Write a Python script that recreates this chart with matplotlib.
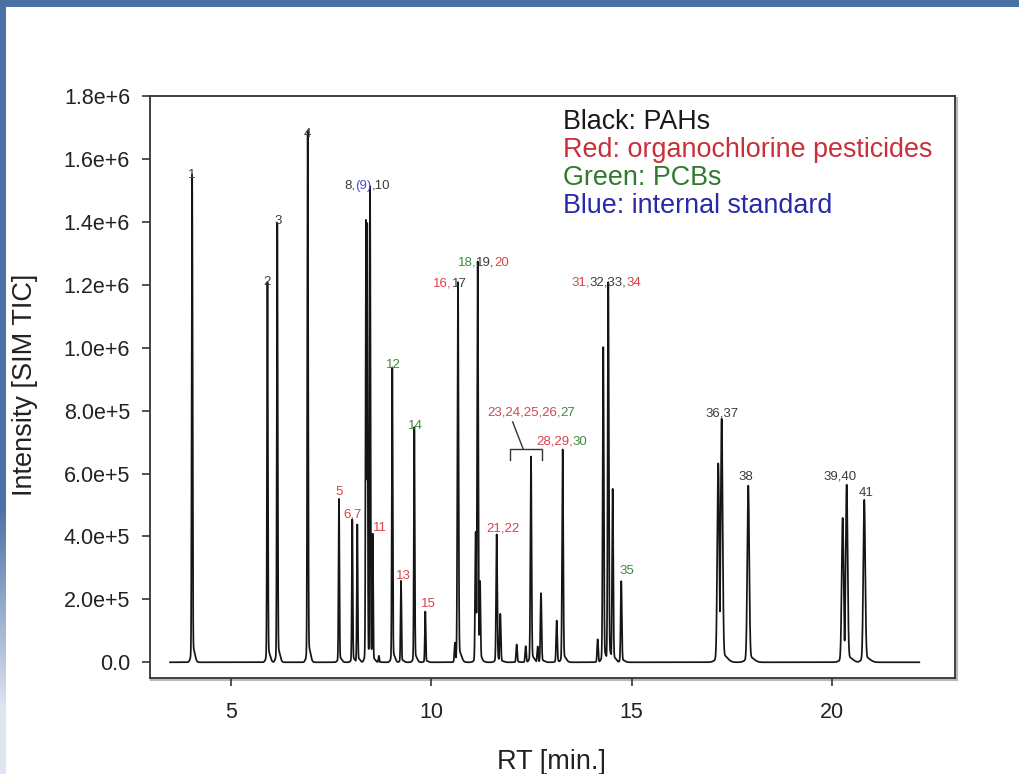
import numpy as np
import matplotlib
matplotlib.use('Agg')
import matplotlib.pyplot as plt
from matplotlib.offsetbox import TextArea, HPacker, AnnotationBbox
from matplotlib.patches import Rectangle

plt.rcParams['font.family'] = ['Liberation Sans', 'DejaVu Sans']

# retention time [min] and apex intensity of every peak in the SIM TIC trace
peak_rt = [4.03, 5.91, 6.155, 6.915, 7.695, 8.027, 8.152, 8.37, 8.40, 8.47,
           8.536, 8.69, 9.025, 9.243, 9.575, 9.849, 10.59, 10.665, 11.107, 11.157,
           11.214, 11.631, 11.721, 12.13, 12.355, 12.487, 12.654, 12.737, 13.129, 13.278,
           14.152, 14.291, 14.416, 14.526, 14.74, 17.161, 17.246, 17.91, 20.266, 20.366,
           20.805]
peak_height = [1.511e6, 1.177e6, 1.361e6, 1.646e6, 5.06e5, 4.43e5, 4.27e5, 1.37e6, 1.36e6, 1.474e6,
               3.98e5, 2.0e4, 9.13e5, 2.52e5, 7.28e5, 1.57e5, 6.1e4, 1.177e6, 4.04e5, 1.241e6,
               2.52e5, 3.96e5, 1.5e5, 5.5e4, 5.0e4, 6.37e5, 4.9e4, 2.14e5, 1.29e5, 6.59e5,
               7.1e4, 9.76e5, 1.177e6, 5.37e5, 2.51e5, 6.16e5, 7.54e5, 5.47e5, 4.47e5, 5.5e5,
               5.03e5]
rt_start, rt_end = 3.48, 22.18

# peak labels: pieces of (text, class) and the index of the peak they sit on
label_parts = [
    [('1', 'pah')],
    [('2', 'pah')],
    [('3', 'pah')],
    [('4', 'pah')],
    [('5', 'ocp')],
    [('6,7', 'ocp')],
    [('8,', 'pah'), ('(9)', 'istd'), (',10', 'pah')],
    [('11', 'ocp')],
    [('12', 'pcb')],
    [('13', 'ocp')],
    [('14', 'pcb')],
    [('15', 'ocp')],
    [('16,', 'ocp'), ('17', 'pah')],
    [('18,', 'pcb'), ('19,', 'pah'), ('20', 'ocp')],
    [('21,22', 'ocp')],
    [('23,24,25,26,', 'ocp'), ('27', 'pcb')],
    [('28,29,', 'ocp'), ('30', 'pcb')],
    [('31,', 'ocp'), ('32,33,', 'pah'), ('34', 'ocp')],
    [('35', 'pcb')],
    [('36,37', 'pah')],
    [('38', 'pah')],
    [('39,40', 'pah')],
    [('41', 'pah')],
]
label_peak = [0, 1, 2, 3, 4, 5, 9, 10, 12, 13, 14, 15, 17, 19, 21, 25, 29, 32, 34, 36, 37, 39, 40]
# offset of each label centre from its peak apex, in pixels
label_offset = [(0, 12), (0, 10), (1, 13), (0, 10), (0, 11), (0, 8), (-3, 13), (7, 9),
                (1, 10), (2, 7), (1, 7), (3, 9), (-8, 8), (6, 9), (6, 9), (0, 49),
                (-1, 13), (-2, 9), (6, 12), (0, 12), (-2, 13), (-7, 13), (2, 11)]

legend_lines = ['Black: PAHs', 'Red: organochlorine pesticides', 'Green: PCBs', 'Blue: internal standard']
legend_keys = ['pah', 'ocp', 'pcb', 'istd']

yticks = [0, 2e5, 4e5, 6e5, 8e5, 1.0e6, 1.2e6, 1.4e6, 1.6e6, 1.8e6]
ytick_labels = ['0.0', '2.0e+5', '4.0e+5', '6.0e+5', '8.0e+5', '1.0e+6', '1.2e+6', '1.4e+6', '1.6e+6', '1.8e+6']
xticks = [5, 10, 15, 20]

label_colors = {'pah': '#3c3c3c', 'ocp': '#d9434c', 'pcb': '#3d8c3d', 'istd': '#4b4bd6'}
legend_colors = {'pah': '#1a1a1a', 'ocp': '#c8303a', 'pcb': '#2f7a2f', 'istd': '#2a2aa8'}


def peak_width(rt):
    if rt < 10:
        return 0.011
    if rt < 16:
        return 0.014
    return 0.024


def build_trace(t):
    # overlapping peaks are drawn as an envelope so every apex keeps its own height
    y = np.zeros_like(t)
    for rt, h in zip(peak_rt, peak_height):
        s = peak_width(rt)
        p = h * np.exp(-0.5 * ((t - rt) / s) ** 2)
        # slight tailing skirt at the base
        p += 0.03 * h * np.exp(-0.5 * ((t - rt - 2 * s) / (4 * s)) ** 2)
        y = np.maximum(y, p)
    return y


W, H = 1020, 774
fig = plt.figure(figsize=(W / 100, H / 100), dpi=100)

# blue page border (top bar and fading left bar)
fig.patches.append(Rectangle((0, 1 - 7 / H), 1, 7 / H, transform=fig.transFigure,
                             facecolor='#4a71a6', edgecolor='none', zorder=-5))
bg = fig.add_axes([0, 0, 6 / W, 1 - 7 / H])
rows = np.arange(H - 7)
frac = np.clip((rows - 500) / 200, 0, 1)[:, None]
blue = np.array([0x4a, 0x71, 0xa6]) / 255
light = np.array([0xdf, 0xe4, 0xf0]) / 255
grad = blue * (1 - frac) + light * frac
bg.imshow(grad[:, None, :], aspect='auto', interpolation='bilinear')
bg.set_axis_off()

left, right, top, bottom = 149.5, 955, 96, 678
ax = fig.add_axes([left / W, 1 - bottom / H, (right - left) / W, (bottom - top) / H])

# frame shadow
fig.patches.append(Rectangle(((left + 2) / W, 1 - (bottom + 2) / H), (right - left) / W, (bottom - top) / H,
                             transform=fig.transFigure, facecolor='none', edgecolor='#b8b8b8',
                             linewidth=1.5, zorder=-1))

t = np.arange(rt_start, rt_end, 0.001)
ax.plot(t, build_trace(t), color='#151515', linewidth=1.25)

ax.set_xlim(2.966, 23.07)
ax.set_ylim(-5e4, 1.8e6)
ax.set_xticks(xticks)
ax.set_xticklabels([str(x) for x in xticks])
ax.set_yticks(yticks)
ax.set_yticklabels(ytick_labels)
ax.tick_params(axis='both', direction='out', length=6, width=1.2, color='#333333',
               labelsize=15.5, labelcolor='#222222')
ax.tick_params(axis='y', pad=8)
ax.tick_params(axis='x', pad=11)
for sp in ax.spines.values():
    sp.set_color('#333333')
    sp.set_linewidth(1.3)

# peak labels
for parts, idx, (dx, dy) in zip(label_parts, label_peak, label_offset):
    boxes = [TextArea(s, textprops=dict(color=label_colors[k], fontsize=9.5)) for s, k in parts]
    pack = HPacker(children=boxes, align='baseline', pad=0, sep=0)
    ab = AnnotationBbox(pack, (peak_rt[idx], peak_height[idx]), xybox=(dx * 0.72, dy * 0.72),
                        xycoords='data', boxcoords='offset points', frameon=False,
                        box_alignment=(0.5, 0.5), pad=0)
    ax.add_artist(ab)

# bracket grouping peaks 23-27
bx0, bx1, by, bdrop = 11.963, 12.754, 6.77e5, 6.42e5
ax.plot([bx0, bx0, bx1, bx1], [bdrop, by, by, bdrop], color='#333333', linewidth=1.0)
ax.plot([12.295, 12.03], [by, 7.64e5], color='#333333', linewidth=1.0)

# colour key
for i, (txt, k) in enumerate(zip(legend_lines, legend_keys)):
    fig.text(562.8 / W, 1 - (121.8 + 28.2 * i) / H, txt, color=legend_colors[k],
             fontsize=19.4, ha='left', va='center')

fig.text(25 / W, 1 - 385 / H, 'Intensity [SIM TIC]', rotation=90, fontsize=19.5,
         ha='center', va='center', color='#222222')
fig.text(551 / W, 1 - 762 / H, 'RT [min.]', fontsize=19.5, ha='center', va='center', color='#222222')

fig.savefig('out.png', dpi=100)
